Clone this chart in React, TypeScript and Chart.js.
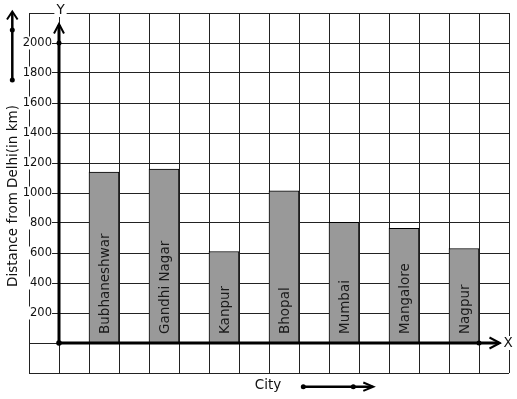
import { useEffect, useRef } from 'react';
import { Chart, registerables } from 'chart.js';

Chart.register(...registerables);

const cities = ['Bubhaneshwar', 'Gandhi Nagar', 'Kanpur', 'Bhopal', 'Mumbai', 'Mangalore', 'Nagpur'];
const distances = [1140, 1160, 610, 1015, 805, 765, 630];
const yTickLabels = [200, 400, 600, 800, 1000, 1200, 1400, 1600, 1800, 2000];
const xAxisTitle = 'City';
const yAxisTitle = 'Distance from Delhi(in km)';

const FONT = '"DejaVu Sans", sans-serif';

function line(ctx: CanvasRenderingContext2D, pts: number[][], w: number) {
  ctx.save();
  ctx.lineWidth = w;
  ctx.strokeStyle = '#000';
  ctx.lineJoin = 'miter';
  ctx.lineCap = 'butt';
  ctx.beginPath();
  pts.forEach((p, i) => (i === 0 ? ctx.moveTo(p[0], p[1]) : ctx.lineTo(p[0], p[1])));
  ctx.stroke();
  ctx.restore();
}

function dot(ctx: CanvasRenderingContext2D, x: number, y: number, r: number) {
  ctx.save();
  ctx.fillStyle = '#000';
  ctx.beginPath();
  ctx.arc(x, y, r, 0, Math.PI * 2);
  ctx.fill();
  ctx.restore();
}

function labelWithBg(ctx: CanvasRenderingContext2D, text: string, x: number, y: number, font: string) {
  ctx.save();
  ctx.font = font;
  const w = ctx.measureText(text).width;
  ctx.fillStyle = '#fff';
  ctx.fillRect(x - w / 2 - 2, y - 7, w + 4, 14);
  ctx.fillStyle = '#111';
  ctx.textAlign = 'center';
  ctx.textBaseline = 'middle';
  ctx.fillText(text, x, y);
  ctx.restore();
}

export default function App() {
  const ref = useRef<HTMLCanvasElement>(null);

  useEffect(() => {
    const canvas = ref.current!;
    const overlay = {
      id: 'overlay',
      afterDatasetsDraw(chart: any) {
        const ctx: CanvasRenderingContext2D = chart.ctx;
        const xs = chart.scales.x;
        const ys = chart.scales.y;
        const area = chart.chartArea;
        const ox = xs.getPixelForValue(0);
        const oy = ys.getPixelForValue(0);

        // y tick labels with white backgrounds
        ctx.save();
        ctx.font = `11.5px ${FONT}`;
        ctx.textAlign = 'right';
        ctx.textBaseline = 'middle';
        yTickLabels.forEach((v) => {
          const y = ys.getPixelForValue(v);
          const t = String(v);
          const w = ctx.measureText(t).width;
          const rx = ox - 7;
          ctx.fillStyle = '#fff';
          ctx.fillRect(rx - w - 2, y - 6.5, w + 2, 13);
          ctx.fillStyle = '#111';
          ctx.fillText(t, rx, y);
        });
        ctx.restore();

        // bar labels
        const meta = chart.getDatasetMeta(0);
        ctx.save();
        ctx.font = `13.5px ${FONT}`;
        ctx.fillStyle = '#1a1a1a';
        ctx.textAlign = 'left';
        ctx.textBaseline = 'alphabetic';
        meta.data.forEach((bar: any, i: number) => {
          ctx.save();
          ctx.translate(bar.x + 4.5, bar.base - 8.5);
          ctx.rotate(-Math.PI / 2);
          ctx.fillText(cities[i], 0, 0);
          ctx.restore();
        });
        ctx.restore();

        // axes
        const yTip = area.top + 11;
        const xTip = area.right - 9;
        line(ctx, [[ox, oy], [ox, yTip + 1]], 3);
        line(ctx, [[ox - 5, yTip + 9.5], [ox, yTip], [ox + 5, yTip + 9.5]], 2);
        line(ctx, [[ox, oy], [xTip - 1, oy]], 3);
        line(ctx, [[xTip - 10.5, oy - 5.5], [xTip, oy], [xTip - 10.5, oy + 5.5]], 2);
        dot(ctx, ox, oy, 2.8);
        dot(ctx, ox, ys.getPixelForValue(2000), 2.5);
        dot(ctx, xs.getPixelForValue(14), oy, 2.5);

        labelWithBg(ctx, 'Y', ox + 1.5, area.top - 3, `13.5px ${FONT}`);
        labelWithBg(ctx, 'X', area.right - 1, oy, `13.5px ${FONT}`);

        // y axis title
        ctx.save();
        ctx.font = `13.5px ${FONT}`;
        ctx.fillStyle = '#111';
        ctx.textAlign = 'center';
        ctx.textBaseline = 'alphabetic';
        ctx.translate(17, 196);
        ctx.rotate(-Math.PI / 2);
        ctx.fillText(yAxisTitle, 0, 0);
        ctx.restore();

        // top-left arrow
        line(ctx, [[12.3, 80], [12.3, 12.5]], 2.5);
        line(ctx, [[7, 19.5], [12.3, 11.5], [17.6, 19.5]], 2);
        dot(ctx, 12.3, 30, 2.5);
        dot(ctx, 12.3, 80, 2.5);

        // x axis title with arrow
        ctx.save();
        ctx.font = `13.5px ${FONT}`;
        ctx.fillStyle = '#111';
        ctx.textAlign = 'center';
        ctx.textBaseline = 'middle';
        ctx.fillText(xAxisTitle, 268, 385.5);
        ctx.restore();
        line(ctx, [[303.3, 386.7], [372.5, 386.7]], 2.5);
        line(ctx, [[363.3, 382.5], [373.3, 386.7], [363.3, 390.9]], 2);
        dot(ctx, 303.3, 386.7, 2.5);
        dot(ctx, 353.3, 386.7, 2.5);
      },
    };

    const chart = new Chart(canvas, {
      type: 'bar',
      data: {
        datasets: [
          {
            data: cities.map((c, i) => ({ x: 2 * i + 1.5, y: distances[i] })),
            backgroundColor: '#999999',
            borderColor: '#000',
            borderWidth: 1,
            categoryPercentage: 1,
            barPercentage: 1,
          },
        ],
      },
      options: {
        responsive: false,
        animation: false,
        layout: { padding: { left: 29, top: 13, right: 8, bottom: 26 } },
        plugins: { legend: { display: false }, tooltip: { enabled: false } },
        scales: {
          x: {
            type: 'linear',
            min: -1,
            max: 15,
            offset: false,
            ticks: { stepSize: 1, display: false },
            grid: { color: '#222', lineWidth: 1, drawTicks: false, offset: false },
            border: { display: false },
          },
          y: {
            type: 'linear',
            min: -200,
            max: 2200,
            ticks: { stepSize: 200, display: false },
            grid: { color: '#222', lineWidth: 1, drawTicks: false },
            border: { display: false },
          },
        },
      },
      plugins: [overlay],
    } as any);
    return () => chart.destroy();
  }, []);

  return (
    <div style={{ position: 'absolute', left: 0, top: 0, width: 517, height: 399, background: '#fff' }}>
      <canvas ref={ref} width={517} height={399} style={{ display: 'block' }} />
    </div>
  );
}
